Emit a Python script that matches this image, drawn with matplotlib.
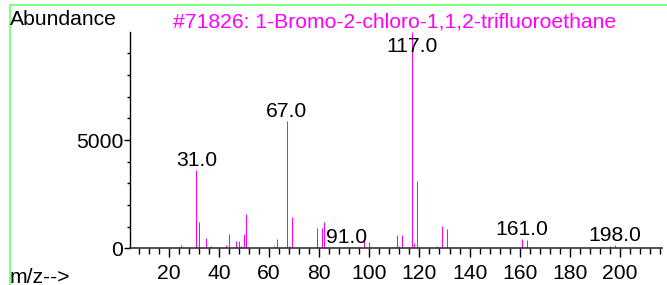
import matplotlib
matplotlib.use('Agg')
import matplotlib.pyplot as plt
from matplotlib.lines import Line2D
from matplotlib.ticker import MultipleLocator, FixedLocator

plt.rcParams['font.family'] = ['Liberation Sans', 'DejaVu Sans']

# spectrum (m/z, abundance)
mz = [19, 24, 25, 31, 32, 35, 36, 37, 43, 44, 47, 48, 49, 50, 51,
      62, 63, 67, 68, 69, 79, 81, 82, 85, 91, 93, 98, 100,
      110, 111, 112, 113, 117, 118, 119, 120, 127, 129, 131,
      142, 144, 145, 147, 161, 163, 177, 179, 196, 198, 200]
abundance = [50, 80, 160, 3615, 1230, 460, 50, 120, 130, 670, 320, 315, 115, 670, 1600,
             85, 450, 5860, 115, 1465, 915, 915, 1195, 60, 70, 50, 380, 270,
             70, 620, 100, 620, 9999, 260, 3120, 40, 100, 1040, 885,
             35, 35, 35, 35, 415, 378, 35, 35, 110, 140, 35]
labelled = [31, 67, 91, 117, 161, 198]
y_labels = [0, 5000]

title = "#71826: 1-Bromo-2-chloro-1,1,2-trifluoroethane"
fs = 15.2

fig = plt.figure(figsize=(6.67, 2.85), dpi=100)
ax = fig.add_axes([130 / 667, (285 - 248.3) / 285, 532 / 667, 216.6 / 285])

ax.vlines(mz, 0, abundance, colors='magenta', linewidth=0.75)

for m in labelled:
    h = abundance[mz.index(m)]
    ax.annotate(f"{m:.1f}", xy=(m, min(h, 8875)), xytext=(0, 3),
                textcoords='offset points', ha='center', va='baseline',
                fontsize=fs, color='black')

ax.set_xlim(4.55, 216.75)
ax.set_ylim(0, 10000)

for s in ['top', 'right']:
    ax.spines[s].set_visible(False)
ax.spines['left'].set_linewidth(1.0)
ax.spines['bottom'].set_linewidth(1.2)
ax.spines['bottom'].set_color('#333333')

ax.xaxis.set_major_locator(MultipleLocator(20))
ax.xaxis.set_minor_locator(MultipleLocator(4))
ax.yaxis.set_major_locator(FixedLocator(y_labels))
ax.yaxis.set_minor_locator(FixedLocator(range(1000, 10000, 1000)))
ax.tick_params(axis='x', which='major', direction='out', length=6.5, width=1, pad=4.5, labelsize=fs)
ax.tick_params(axis='x', which='minor', direction='out', length=4, width=1)
ax.tick_params(axis='y', which='major', direction='out', length=4, width=1, pad=1, labelsize=fs)
ax.tick_params(axis='y', which='minor', direction='out', length=2, width=1)
ax.set_facecolor('none')

fig.text(394.5 / 667, (285 - 27) / 285, title, color='magenta', fontsize=fs,
         ha='center', va='baseline')
fig.text(10 / 667, (285 - 25) / 285, "Abundance", fontsize=fs, ha='left', va='baseline')
fig.text(10 / 667, 2 / 285, "m/z-->", fontsize=fs, ha='left', va='baseline')

# light green frame lines
fig.add_artist(Line2D([10 / 667, 1], [1 - 5 / 285, 1 - 5 / 285], color='#80ff80', linewidth=1.4))
fig.add_artist(Line2D([10 / 667, 10 / 667], [0, 1 - 5 / 285], color='#80ff80', linewidth=1.4))

plt.savefig('out.png', dpi=100)
plt.close('all')
